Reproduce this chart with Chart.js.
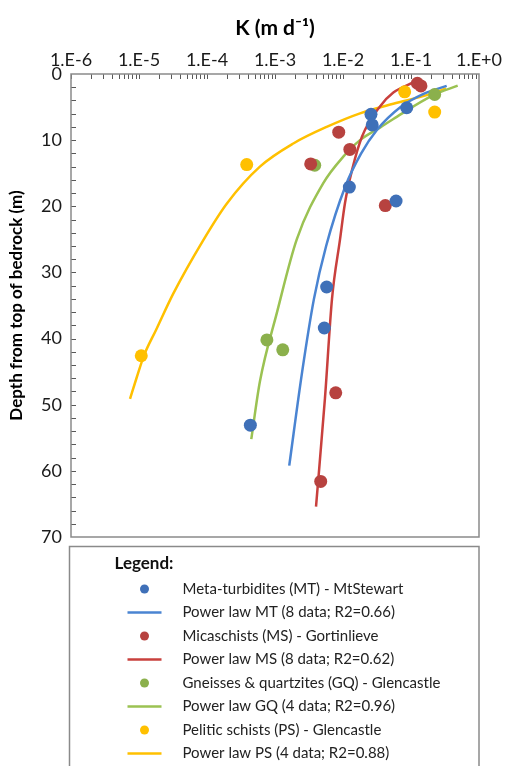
<!DOCTYPE html>
<html>
<head>
<meta charset="utf-8">
<script src="https://cdn.jsdelivr.net/npm/chart.js@4.4.1/dist/chart.umd.min.js"></script>
<style>
  html, body { margin: 0; padding: 0; background: #fff; }
  #wrap { width: 506px; height: 766px; position: relative; }
</style>
</head>
<body>
<div id="wrap"><canvas id="c"></canvas></div>
<script>
// Hydraulic conductivity K (m/d) against depth below the top of bedrock

// Axis ticks
const kDecades = [1e-6, 1e-5, 1e-4, 1e-3, 1e-2, 1e-1, 1];
const depthTicks = [0, 10, 20, 30, 40, 50, 60, 70];

// Meta-turbidites (MT) - MtStewart
const mtK     = [0.0258, 0.0269, 0.0865, 0.0124, 0.0603, 0.00575, 0.00531, 0.000434];
const mtDepth = [6.1, 7.7, 5.1, 17.1, 19.2, 32.2, 38.4, 53.1];

// Micaschists (MS) - Gortinlieve
const msK     = [0.124, 0.140, 0.00865, 0.0126, 0.00335, 0.0419, 0.00782, 0.0047];
const msDepth = [1.4, 1.8, 8.8, 11.4, 13.6, 19.9, 48.2, 61.6];

// Gneisses & quartzites (GQ) - Glencastle
const gqK     = [0.223, 0.00384, 0.00076, 0.0013];
const gqDepth = [3.1, 13.8, 40.2, 41.7];

// Pelitic schists (PS) - Glencastle
const psK     = [0.0807, 0.223, 0.000384, 0.0000108];
const psDepth = [2.7, 5.75, 13.7, 42.6];

// Power-law trend curves, traced along depth
const mtFitK     = [0.335, 0.153, 0.0703, 0.0313, 0.0185, 0.0108, 0.00565, 0.00374, 0.00251, 0.00162];
const mtFitDepth = [1.8, 3, 5, 8.5, 12, 17, 26, 34, 45, 59.2];

const msFitK     = [0.112, 0.055, 0.035, 0.019, 0.0136, 0.0107, 0.00904, 0.00689, 0.00543, 0.00401];
const msFitDepth = [1.2, 2.8, 4.9, 9.5, 14.5, 19.5, 25, 34, 49, 65.4];

const gqFitK     = [0.486, 0.213, 0.055, 0.035, 0.0178, 0.0101, 0.00513, 0.00209, 0.00106, 0.0006, 0.000448];
const gqFitDepth = [1.77, 3.2, 6.8, 8.1, 10, 12.5, 16.5, 25, 36.2, 46.5, 55.2];

const psFitK     = [0.327, 0.170, 0.055, 0.0178, 0.00575, 0.00186, 0.0006, 0.000195, 0.0000883, 0.0000319, 0.0000178, 0.0000119, 0.00000918, 0.00000738];
const psFitDepth = [2.2, 3.2, 4.5, 5.95, 8.0, 10.5, 14.0, 19.6, 25.1, 33.2, 38.7, 42.5, 46.0, 49.1];

const FONT = 'Lato, "Open Sans", sans-serif';
const pairs = (xs, ys) => xs.map((x, i) => ({ x: x, y: ys[i] }));

const series = [
  { label: 'Meta-turbidites (MT) - MtStewart',          kind: 'dot',  color: '#3F70B8', data: pairs(mtK, mtDepth) },
  { label: 'Power law MT (8 data; R2=0.66)',             kind: 'line', color: '#4A84D2', data: pairs(mtFitK, mtFitDepth) },
  { label: 'Micaschists (MS) - Gortinlieve',             kind: 'dot',  color: '#B7423F', data: pairs(msK, msDepth) },
  { label: 'Power law MS (8 data; R2=0.62)',             kind: 'line', color: '#C9403D', data: pairs(msFitK, msFitDepth) },
  { label: 'Gneisses & quartzites (GQ) - Glencastle',    kind: 'dot',  color: '#8BB04C', data: pairs(gqK, gqDepth) },
  { label: 'Power law GQ (4 data; R2=0.96)',             kind: 'line', color: '#9BC252', data: pairs(gqFitK, gqFitDepth) },
  { label: 'Pelitic schists (PS) - Glencastle',          kind: 'dot',  color: '#FFC000', data: pairs(psK, psDepth) },
  { label: 'Power law PS (4 data; R2=0.88)',             kind: 'line', color: '#FFC000', data: pairs(psFitK, psFitDepth) }
];

const datasets = series.map(s => s.kind === 'dot' ? {
  label: s.label, data: s.data, showLine: false,
  pointRadius: 6.5, pointHoverRadius: 6.5,
  backgroundColor: s.color, borderColor: s.color, borderWidth: 0, order: 0
} : {
  label: s.label, data: s.data, showLine: true,
  pointRadius: 0, pointHoverRadius: 0,
  borderColor: s.color, backgroundColor: s.color, borderWidth: 2.5,
  cubicInterpolationMode: 'monotone', fill: false, order: 1
});

function kLabel(v) {
  const e = Math.round(Math.log10(v));
  return '1.E' + (e >= 0 ? '+' : '-') + Math.abs(e);
}

// Plot frame plus inward tick marks on both axes
const framePlugin = {
  id: 'frame',
  beforeDatasetsDraw(chart) {
    const { ctx, chartArea: a, scales } = chart;
    ctx.save();
    ctx.strokeStyle = '#595959';
    ctx.lineWidth = 1;
    ctx.beginPath();
    // log ticks along the top edge
    for (let e = -6; e < 0; e++) {
      for (let m = 1; m <= 9; m++) {
        const px = Math.round(scales.x.getPixelForValue(m * Math.pow(10, e))) + 0.5;
        ctx.moveTo(px, a.top);
        ctx.lineTo(px, a.top + 5);
      }
    }
    // depth ticks every 2 m along the left edge
    for (let d = 2; d < 70; d += 2) {
      const py = Math.round(scales.y.getPixelForValue(d)) + 0.5;
      ctx.moveTo(a.left, py);
      ctx.lineTo(a.left + 5, py);
    }
    ctx.stroke();
    ctx.strokeStyle = '#8a8a8a';
    ctx.lineWidth = 1.5;
    ctx.strokeRect(a.left, a.top, a.right - a.left, a.bottom - a.top);
    ctx.restore();
  }
};

// Boxed legend below the plot
const legendPlugin = {
  id: 'boxLegend',
  afterDraw(chart) {
    const { ctx, chartArea: a } = chart;
    const left = a.left - 1.5, right = a.right, top = a.bottom + 9.5;
    ctx.save();
    ctx.strokeStyle = '#8a8a8a';
    ctx.lineWidth = 1.5;
    ctx.strokeRect(left, top, right - left, chart.height - top + 10);
    ctx.fillStyle = '#111';
    ctx.textBaseline = 'middle';
    ctx.font = 'bold 17px ' + FONT;
    ctx.fillText('Legend:', left + 45, top + 17);
    ctx.font = '15px ' + FONT;
    const markX = left + 75, textX = left + 113;
    chart.data.datasets.forEach((ds, i) => {
      const y = top + 42.5 + i * 23.5;
      if (ds.showLine) {
        ctx.strokeStyle = ds.borderColor;
        ctx.lineWidth = 2.5;
        ctx.beginPath();
        ctx.moveTo(markX - 17, y);
        ctx.lineTo(markX + 17, y);
        ctx.stroke();
      } else {
        ctx.fillStyle = ds.backgroundColor;
        ctx.beginPath();
        ctx.arc(markX, y, 4.5, 0, Math.PI * 2);
        ctx.fill();
      }
      ctx.fillStyle = '#222';
      ctx.fillText(ds.label, textX, y);
    });
    ctx.restore();
  }
};

new Chart(document.getElementById('c'), {
  type: 'scatter',
  data: { datasets: datasets },
  options: {
    responsive: true,
    maintainAspectRatio: false,
    animation: false,
    layout: { padding: { left: 0, top: 0, right: 27, bottom: 229 } },
    plugins: { legend: { display: false }, tooltip: { enabled: false } },
    scales: {
      x: {
        type: 'logarithmic',
        position: 'top',
        min: 1e-6,
        max: 1,
        afterBuildTicks: s => { s.ticks = kDecades.map(v => ({ value: v })); },
        afterFit: s => { s.height = 74; },
        grid: { display: false, drawTicks: false },
        border: { display: false },
        ticks: {
          autoSkip: false, maxRotation: 0, padding: 3,
          color: '#1a1a1a', font: { family: FONT, size: 18 },
          callback: v => kLabel(v)
        },
        title: {
          display: true, text: 'K (m d\u207B\u00B9)', color: '#000',
          font: { family: FONT, size: 21, weight: 'bold' },
          padding: { top: 16, bottom: 0 }
        }
      },
      y: {
        type: 'linear',
        reverse: true,
        min: 0,
        max: 70,
        afterBuildTicks: s => { s.ticks = depthTicks.map(v => ({ value: v })); },
        afterFit: s => { s.width = 71; },
        grid: { display: false, drawTicks: false },
        border: { display: false },
        ticks: { padding: 9, color: '#1a1a1a', font: { family: FONT, size: 18 } },
        title: {
          display: true, text: 'Depth from top of bedrock (m)', color: '#000',
          font: { family: FONT, size: 17, weight: 'bold' },
          padding: { top: 6, bottom: 0 }
        }
      }
    }
  },
  plugins: [framePlugin, legendPlugin]
});
</script>
</body>
</html>
